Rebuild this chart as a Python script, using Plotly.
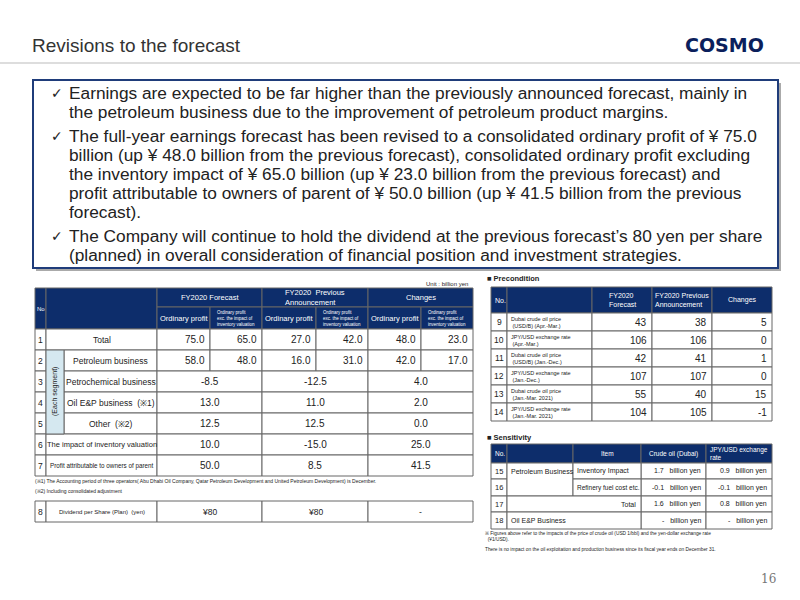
import plotly.graph_objects as go

NAVY = "#0d2d6b"
FONT = "Liberation Sans, Arial, sans-serif"

bullets = [
    ["Earnings are expected to be far higher than the previously announced forecast, mainly in",
     "the petroleum business due to the improvement of petroleum product margins."],
    ["The full-year earnings forecast has been revised to a consolidated ordinary profit of ¥ 75.0",
     "billion (up ¥ 48.0 billion from the previous forecast), consolidated ordinary profit excluding",
     "the inventory impact of ¥ 65.0 billion (up ¥ 23.0 billion from the previous forecast) and",
     "profit attributable to owners of parent of ¥ 50.0 billion (up ¥ 41.5 billion from the previous",
     "forecast)."],
    ["The Company will continue to hold the dividend at the previous forecast’s 80 yen per share",
     "(planned) in overall consideration of financial position and investment strategies."],
]

# left table
row_no = ["1", "2", "3", "4", "5", "6", "7"]
row_labels = ["Total", "Petroleum business", "Petrochemical business", "Oil E&P business  (\u203b1)",
              "Other  (\u203b2)", "The impact of inventory valuation", "Profit attributable to owners of parent"]
fc_op = ["75.0", "58.0", "-8.5", "13.0", "12.5", "10.0", "50.0"]
fc_ex = ["65.0", "48.0", None, None, None, None, None]
prev_op = ["27.0", "16.0", "-12.5", "11.0", "12.5", "-15.0", "8.5"]
prev_ex = ["42.0", "31.0", None, None, None, None, None]
chg_op = ["48.0", "42.0", "4.0", "2.0", "0.0", "25.0", "41.5"]
chg_ex = ["23.0", "17.0", None, None, None, None, None]
dividend = ["8", "Dividend per Share (Plan)  (yen)", "¥80", "¥80", "-"]

# precondition
pre_no = ["9", "10", "11", "12", "13", "14"]
pre_label = ["Dubai crude oil price<br> (USD/B) (Apr.-Mar.)", "JPY/USD exchange rate<br> (Apr.-Mar.)",
             "Dubai crude oil price<br> (USD/B) (Jan.-Dec.)", "JPY/USD exchange rate<br> (Jan.-Dec.)",
             "Dubai crude oil price<br> (Jan.-Mar. 2021)", "JPY/USD exchange rate<br> (Jan.-Mar. 2021)"]
pre_fc = [43, 106, 42, 107, 55, 104]
pre_prev = [38, 106, 41, 107, 40, 105]
pre_chg = [5, 0, 1, 0, 15, -1]

# sensitivity
sen_no = ["15", "16", "17", "18"]
sen_crude = ["1.7", "-0.1", "1.6", "-"]
sen_fx = ["0.9", "-0.1", "0.8", "-"]

shapes, anns = [], []


def text(x, y, s, size=9, color="#222", xanchor="center", bold=False, angle=0, family=FONT):
    if bold:
        s = "<b>" + s + "</b>"
    anns.append(dict(x=x, y=y, text=s, showarrow=False, xanchor=xanchor, yanchor="middle",
                     textangle=angle, font=dict(size=size, color=color, family=family), align="left"))


def cell(x0, x1, y0, y1, s="", fill="white", size=9, color="#222", align="center", lw=1):
    shapes.append(dict(type="rect", x0=x0, x1=x1, y0=y0, y1=y1, fillcolor=fill,
                       line=dict(color="#666", width=lw), layer="below"))
    if s:
        if align == "center":
            text((x0 + x1) / 2, (y0 + y1) / 2, s, size, color)
        elif align == "right":
            text(x1 - 3, (y0 + y1) / 2, s, size, color, "right")
        else:
            text(x0 + 2, (y0 + y1) / 2, s, size, color, "left")


# title area
text(30, 45, "Revisions to the forecast", 19, "#333", "left", family="Liberation Sans, Arial")
text(766, 45, "COSMO", 19, "#0b1f5c", "right", bold=True, family="DejaVu Sans")
shapes.append(dict(type="line", x0=0, x1=800, y0=63, y1=63, line=dict(color="#bbb", width=1)))

# bullet box
shapes.append(dict(type="rect", x0=36, x1=781, y0=83, y1=271, fillcolor="#aaa", line=dict(width=0)))
shapes.append(dict(type="rect", x0=33, x1=778, y0=80, y1=268, fillcolor="white",
                   line=dict(color="#1f3c7a", width=2)))
y = 93
for b in bullets:
    text(49, y, "<b>✓</b>", 14, "#222", "left", family="DejaVu Sans")
    for line in b:
        text(67, y, line, 17.3, "#222", "left", family="Liberation Sans, Arial")
        y += 19
    y += 5

# left table
cx = [35, 46, 64, 157, 210, 262, 316, 368, 421, 473]
hy = [288, 307, 329]
text(470, 284, "Unit : billion yen", 6, "#222", "right")
cell(cx[0], cx[1], hy[0], hy[2], "No", NAVY, 6, "white")
cell(cx[1], cx[3], hy[0], hy[2], "", NAVY)
for i, h in enumerate(["FY2020 Forecast", "FY2020  Previous<br>Announcement", "Changes"]):
    cell(cx[3 + 2 * i], cx[5 + 2 * i], hy[0], hy[1], h, NAVY, 7.5, "white")
    cell(cx[3 + 2 * i], cx[4 + 2 * i], hy[1], hy[2], "Ordinary profit", NAVY, 7.5, "white")
    cell(cx[4 + 2 * i], cx[5 + 2 * i], hy[1], hy[2],
         "Ordinary profit<br>exc. the impact of<br>inventory valuation", NAVY, 4.5, "white")
ry = [329, 350, 371, 392, 413, 434, 455, 476]
cols = [(fc_op, fc_ex), (prev_op, prev_ex), (chg_op, chg_ex)]
for r in range(7):
    y0, y1 = ry[r], ry[r + 1]
    cell(cx[0], cx[1], y0, y1, row_no[r], size=8.5, align="center")
    lx0 = cx[2] if 1 <= r <= 4 else cx[1]
    lsize = {5: 7.5, 6: 6.3}.get(r, 8.5)
    cell(lx0, cx[3], y0, y1, row_labels[r], size=lsize)
    for i, (op, ex) in enumerate(cols):
        if ex[r] is None:
            cell(cx[3 + 2 * i], cx[5 + 2 * i], y0, y1, op[r], size=10)
        else:
            cell(cx[3 + 2 * i], cx[4 + 2 * i], y0, y1, op[r], size=10, align="right")
            cell(cx[4 + 2 * i], cx[5 + 2 * i], y0, y1, ex[r], size=10, align="right")
cell(cx[1], cx[2], ry[1], ry[5], "", "#d5e8f0")
text((cx[1] + cx[2]) / 2, (ry[1] + ry[5]) / 2, "(Each segment)", 7, "#222", angle=-90)
text(33, 481, "(\u203b1) The Accounting period of three operators( Abu Dhabi Oil Company, Qatar Petroleum Development and United Petroleum Development) is December.", 5, "#222", "left")
text(33, 491, "(\u203b2) Including consolidated adjustment", 5, "#222", "left")
dy0, dy1 = 501, 522
cell(cx[0], cx[1], dy0, dy1, dividend[0], size=8.5)
cell(cx[1], cx[3], dy0, dy1, dividend[1], size=6)
for i in range(3):
    cell(cx[3 + 2 * i], cx[5 + 2 * i], dy0, dy1, dividend[2 + i], size=8.5)

# precondition
px = [491, 507, 592, 652, 712, 772]
text(485, 278, "■ Precondition", 7.5, "#222", "left", bold=True)
for j, h in enumerate(["No.", "", "FY2020<br>Forecast", "FY2020 Previous<br>Announcement", "Changes"]):
    cell(px[j], px[j + 1], 287, 313, h, NAVY, 7, "white", "left" if j == 0 else "center")
for r in range(6):
    y0, y1 = 313 + 18 * r, 331 + 18 * r
    cell(px[0], px[1], y0, y1, pre_no[r], size=8.5)
    cell(px[1], px[2], y0, y1, pre_label[r], size=5.5, align="left")
    cell(px[2], px[3], y0, y1, str(pre_fc[r]), size=10, align="right")
    cell(px[3], px[4], y0, y1, str(pre_prev[r]), size=10, align="right")
    cell(px[4], px[5], y0, y1, str(pre_chg[r]), size=10, align="right")

# sensitivity
sx = [491, 507, 573, 641, 706, 772]
sy = [444, 463, 479, 496, 512, 529]
text(485, 437, "■ Sensitivity", 7.5, "#222", "left", bold=True)
for j, h in enumerate(["No.", "", "Item", "Crude oil (Dubai)", "JPY/USD exchange<br>rate"]):
    cell(sx[j], sx[j + 1], sy[0], sy[1], h, NAVY, 6.5, "white", "left" if j == 0 else "center")
for r in range(4):
    y0, y1 = sy[r + 1], sy[r + 2]
    cell(sx[0], sx[1], y0, y1, sen_no[r], size=7.5)
    cell(sx[3], sx[4], y0, y1, sen_crude[r] + "   billion yen", size=7, align="right")
    cell(sx[4], sx[5], y0, y1, sen_fx[r] + "   billion yen", size=7, align="right")
shapes.append(dict(type="rect", x0=sx[1], x1=sx[2], y0=sy[1], y1=sy[3], fillcolor="white",
                   line=dict(color="#666", width=1), layer="below"))
text(sx[1] + 2, (sy[1] + sy[2]) / 2, "Petroleum Business", 7, "#222", "left")
cell(sx[2], sx[3], sy[1], sy[2], "Inventory Impact", size=7, align="left")
cell(sx[2], sx[3], sy[2], sy[3], "Refinery fuel cost etc.", size=6.5, align="left")
cell(sx[1], sx[3], sy[3], sy[4], "Total", size=7, align="right")
cell(sx[1], sx[3], sy[4], sy[5], "Oil E&P Business", size=7, align="left")
text(483, 536, "\u203b Figures above refer to the impacts of the price of crude oil (USD 1/bbl) and the yen-dollar exchange rate<br>  (¥1/USD).", 4.8, "#222", "left")
text(483, 549, "There is no impact on the oil exploitation and production business since its fiscal year ends on December 31.", 4.8, "#222", "left")

text(778, 579, "16", 12, "#777", "right", family="DejaVu Serif")

fig = go.Figure()
fig.update_layout(width=800, height=600, margin=dict(l=0, r=0, t=0, b=0),
                  paper_bgcolor="white", plot_bgcolor="white", showlegend=False,
                  xaxis=dict(range=[0, 800], visible=False, fixedrange=True),
                  yaxis=dict(range=[600, 0], visible=False, fixedrange=True),
                  shapes=shapes, annotations=anns)
fig.write_html("out.html", config={"displayModeBar": False},
               post_script="document.body.style.margin='0';document.body.style.overflow='hidden';")
